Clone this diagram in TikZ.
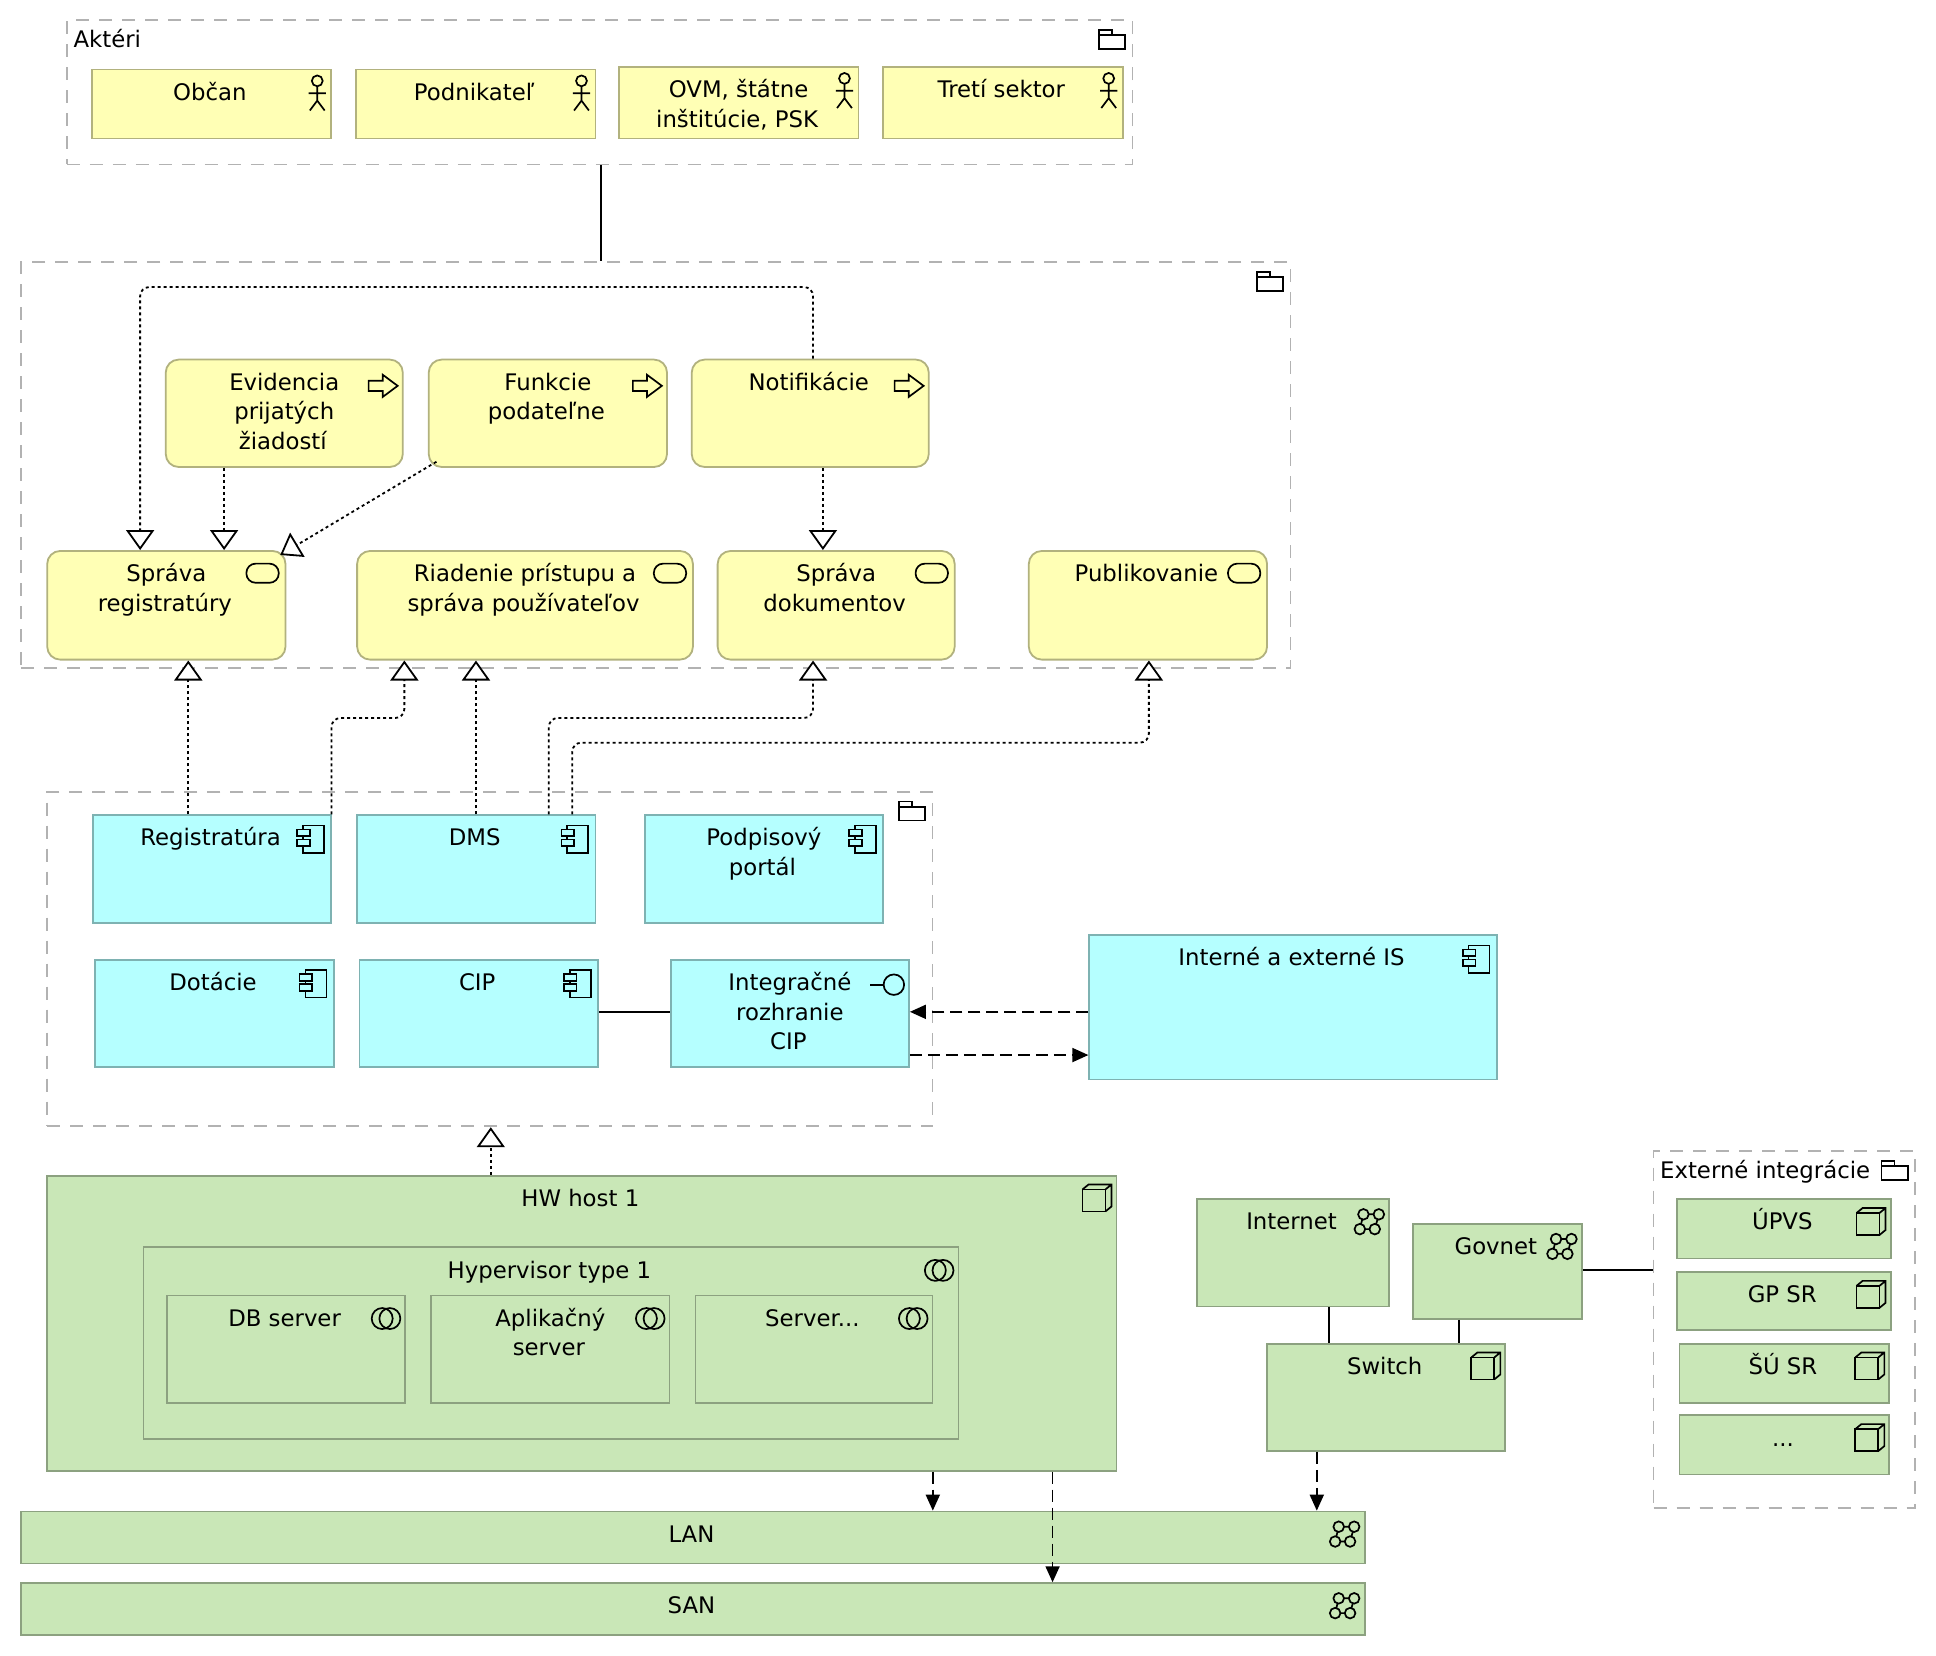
\documentclass[tikz,border=0pt]{standalone}
\usepackage{fontspec}
\setmainfont{DejaVu Sans}
\usetikzlibrary{arrows.meta}
\newlength{\pxu}
\setlength{\pxu}{0.61735pt}
\definecolor{bizfill}{HTML}{FFFFB5}
\definecolor{bizline}{HTML}{B2B27E}
\definecolor{appfill}{HTML}{B5FFFF}
\definecolor{appline}{HTML}{7EB2B2}
\definecolor{techfill}{HTML}{C9E7B7}
\definecolor{techline}{HTML}{8CA180}
\definecolor{groupline}{HTML}{B2B2B2}
\newcommand{\elem}[7]{\node[#1] (#2) at (#3,#4) {\parbox[c][#6\pxu][t]{#5\pxu}{\centering\rule{0pt}{15.4pt}#7\hspace*{1.5pt}\par}};}
\newcommand{\grp}[6]{\node[groupbox] (#1) at (#2,#3) {\parbox[c][#5\pxu][t]{#4\pxu}{\raggedright\hspace*{3.3pt}\rule{0pt}{13.6pt}#6\par}};}
\tikzset{
    base/.style={draw, anchor=north west, inner sep=0pt, line width=0.9pt, font=\fontsize{11.4}{14.8}\selectfont},
    bizbox/.style={base, fill=bizfill, draw=bizline},
    bizround/.style={bizbox, rounded corners=6.5pt},
    appbox/.style={base, fill=appfill, draw=appline},
    techbox/.style={base, fill=techfill, draw=techline},
    groupbox/.style={base, draw=groupline, dash pattern=on 6.5pt off 5pt},
    assoc/.style={line width=0.9pt},
    realize/.style={line width=0.9pt, dash pattern=on 1.5pt off 1.5pt, rounded corners=4.5pt, -{Triangle[open, fill=white, length=10pt, width=14pt]}},
    serve/.style={line width=0.9pt, dash pattern=on 6pt off 3pt, -{Triangle[length=8pt, width=7pt]}},
    icon/.style={line width=0.85pt, draw=black},
    pics/actorico/.style={code={
        \draw[icon] (-12,10) circle (4.4);
        \draw[icon] (-12,14.4) -- (-12,26) (-19,20) -- (-5,20) (-18,34) -- (-12,26) -- (-6,34);
    }},
    pics/funcico/.style={code={
        \draw[icon, line join=miter] (-28.4,17.8) -- (-17,17.8) -- (-17,13) -- (-4.9,22) -- (-17,31) -- (-17,26.2) -- (-28.4,26.2) -- cycle;
    }},
    pics/serviceico/.style={code={
        \draw[icon, rounded corners=4.6pt] (-32.4,11) rectangle (-6.2,26.5);
    }},
    pics/folderico/.style={code={
        \draw[icon] (-28,13) rectangle (-6.6,24);
        \draw[icon] (-28,13) -- (-28,8.6) -- (-17.6,8.6) -- (-17.6,13);
    }},
    pics/compico/.style={code={
        \draw[icon] (-23.5,9.2) rectangle (-6.5,31.3);
        \draw[icon, fill=appfill] (-28.3,12.4) rectangle (-18,17.8);
        \draw[icon, fill=appfill] (-28.3,20.5) rectangle (-18,25.9);
    }},
    pics/faceico/.style={code={
        \draw[icon] (-13,21) circle (8.3);
        \draw[icon] (-32,21) -- (-21.3,21);
    }},
    pics/cubeico/.style={code={
        \draw[icon] (-28.3,11.9) rectangle (-9.7,29.7);
        \draw[icon] (-28.3,11.9) -- (-23.4,7.9) -- (-4.8,7.9) -- (-4.8,25.7) -- (-9.7,29.7) (-9.7,11.9) -- (-4.8,7.9);
    }},
    pics/netico/.style={code={
        \draw[icon] (-21.7,13) -- (-9.2,13) -- (-12.5,25) -- (-24.6,25) -- cycle;
        \draw[icon, fill=techfill] (-21.7,13) circle (4.3);
        \draw[icon, fill=techfill] (-9.2,13) circle (4.3);
        \draw[icon, fill=techfill] (-24.6,25) circle (4.3);
        \draw[icon, fill=techfill] (-12.5,25) circle (4.3);
    }},
    pics/softico/.style={code={
        \draw[icon] (-19.4,19.4) circle (8.5);
        \draw[icon] (-13.2,19.4) circle (8.5);
    }},
}
\begin{document}
\begin{tikzpicture}[x=0.61735pt, y=-0.61735pt]
    \useasboundingbox (0.5,0.5) rectangle (1568.5,1341.5);
    \fill[white] (0.5,0.5) rectangle (1568.5,1341.5);

    \grp{gactors}{54}{16}{863}{117}{Aktéri}
    \grp{gservices}{17}{212}{1028}{329}{}
    \grp{gapps}{38}{641}{717}{271}{}
    \grp{gexternal}{1339}{932}{212}{289}{Externé integrácie}

    \elem{bizbox}{obcan}{74}{56}{194}{56}{Občan}
    \elem{bizbox}{podnik}{288}{56}{194}{56}{Podnikateľ}
    \elem{bizbox}{ovm}{501}{54}{194}{58}{OVM, štátne\\inštitúcie, PSK}
    \elem{bizbox}{tretí}{715}{54}{194}{58}{Tretí sektor}

    \elem{bizround}{evid}{134}{291}{192}{87}{Evidencia\\prijatých\\žiadostí}
    \elem{bizround}{podatel}{347}{291}{193}{87}{Funkcie\\podateľne}
    \elem{bizround}{notif}{560}{291}{192}{87}{Notifikácie}
    \elem{bizround}{spreg}{38}{446}{193}{88}{Správa\\registratúry}
    \elem{bizround}{riadenie}{289}{446}{272}{88}{Riadenie prístupu a\\správa používateľov}
    \elem{bizround}{spdok}{581}{446}{192}{88}{Správa\\dokumentov}
    \elem{bizround}{publik}{833}{446}{193}{88}{Publikovanie}

    \elem{appbox}{registr}{75}{660}{193}{87}{Registratúra}
    \elem{appbox}{dms}{289}{660}{193}{87}{DMS}
    \elem{appbox}{podpis}{522}{660}{193}{87}{Podpisový\\portál}
    \elem{appbox}{dotacie}{77}{777}{193}{87}{Dotácie}
    \elem{appbox}{cip}{291}{777}{193}{87}{CIP}
    \elem{appbox}{rozhr}{543}{777}{193}{87}{Integračné\\rozhranie\\CIP}
    \elem{appbox}{intext}{882}{757}{330}{117}{Interné a externé IS}

    \elem{techbox}{host}{38}{952}{866}{239}{HW host 1}
    \elem{techbox}{hyper}{116}{1010}{660}{155}{Hypervisor type 1}
    \elem{techbox}{dbsrv}{135}{1049}{193}{87}{DB server}
    \elem{techbox}{appsrv}{349}{1049}{193}{87}{Aplikačný\\server}
    \elem{techbox}{srvmore}{563}{1049}{192}{87}{Server...}
    \elem{techbox}{internet}{969}{971}{156}{87}{Internet}
    \elem{techbox}{govnet}{1144}{991}{137}{77}{Govnet}
    \elem{techbox}{switch}{1026}{1088}{193}{87}{Switch}
    \elem{techbox}{lan}{17}{1224}{1088}{42}{LAN}
    \elem{techbox}{san}{17}{1282}{1088}{42}{SAN}
    \elem{techbox}{upvs}{1358}{971}{173}{48}{ÚPVS}
    \elem{techbox}{gpsr}{1358}{1030}{173}{47}{GP SR}
    \elem{techbox}{susr}{1360}{1088}{170}{48}{ŠÚ SR}
    \elem{techbox}{extmore}{1360}{1146}{170}{48}{...}

    \draw[assoc] (487,0 |- gactors.south) -- (487,0 |- gservices.north);
    \draw[realize] (659,0 |- notif.north) -- (659,233) -- (114,233) -- (114,0 |- spreg.north);
    \draw[realize] (182,0 |- evid.south) -- (182,0 |- spreg.north);
    \draw[realize] ([shift={(7,-5)}]podatel.south west) -- ([shift={(-5,4)}]spreg.north east);
    \draw[realize] (667,0 |- notif.south) -- (667,0 |- spdok.north);
    \draw[realize] (153,0 |- registr.north) -- (153,0 |- spreg.south);
    \draw[realize] (269,0 |- registr.north) -- (269,582) -- (328,582) -- (328,0 |- riadenie.south);
    \draw[realize] (386,0 |- dms.north) -- (386,0 |- riadenie.south);
    \draw[realize] (445,0 |- dms.north) -- (445,582) -- (659,582) -- (659,0 |- spdok.south);
    \draw[realize] (464,0 |- dms.north) -- (464,602) -- (931,602) -- (931,0 |- publik.south);
    \draw[realize] (398,0 |- host.north) -- (398,0 |- gapps.south);

    \draw[assoc] (cip.east |- 0,820) -- (rozhr.west |- 0,820);
    \draw[assoc] (govnet.east |- 0,1029) -- (gexternal.west |- 0,1029);
    \draw[assoc] (1077,0 |- internet.south) -- (1077,0 |- switch.north);
    \draw[assoc] (1182,0 |- govnet.south) -- (1182,0 |- switch.north);

    \draw[serve] (intext.west |- 0,820) -- (rozhr.east |- 0,820);
    \draw[serve] (rozhr.east |- 0,855) -- (intext.west |- 0,855);
    \draw[serve] (756,0 |- host.south) -- (756,0 |- lan.north);
    \draw[serve] (853,0 |- host.south) -- (853,0 |- san.north);
    \draw[serve] (1067,0 |- switch.south) -- (1067,0 |- lan.north);

    \pic at (gactors.north east) {folderico};
    \pic at (gservices.north east) {folderico};
    \pic at (gapps.north east) {folderico};
    \pic at (gexternal.north east) {folderico};
    \pic at (obcan.north east) {actorico};
    \pic at (podnik.north east) {actorico};
    \pic at (ovm.north east) {actorico};
    \pic at (tretí.north east) {actorico};
    \pic at (evid.north east) {funcico};
    \pic at (podatel.north east) {funcico};
    \pic at (notif.north east) {funcico};
    \pic at (spreg.north east) {serviceico};
    \pic at (riadenie.north east) {serviceico};
    \pic at (spdok.north east) {serviceico};
    \pic at (publik.north east) {serviceico};
    \pic at (registr.north east) {compico};
    \pic at (dms.north east) {compico};
    \pic at (podpis.north east) {compico};
    \pic at (dotacie.north east) {compico};
    \pic at (cip.north east) {compico};
    \pic at (intext.north east) {compico};
    \pic at (rozhr.north east) {faceico};
    \pic at (host.north east) {cubeico};
    \pic at (switch.north east) {cubeico};
    \pic at (upvs.north east) {cubeico};
    \pic at (gpsr.north east) {cubeico};
    \pic at (susr.north east) {cubeico};
    \pic at (extmore.north east) {cubeico};
    \pic at (internet.north east) {netico};
    \pic at (govnet.north east) {netico};
    \pic at (lan.north east) {netico};
    \pic at (san.north east) {netico};
    \pic at (hyper.north east) {softico};
    \pic at (dbsrv.north east) {softico};
    \pic at (appsrv.north east) {softico};
    \pic at (srvmore.north east) {softico};
\end{tikzpicture}
\end{document}
